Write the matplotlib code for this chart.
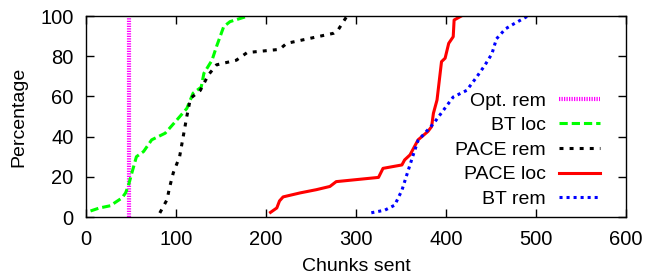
import matplotlib
matplotlib.use("Agg")
import matplotlib.pyplot as plt

plt.rcParams['font.family'] = ['Liberation Sans', 'DejaVu Sans']

# Opt. rem: a single vertical line
opt_rem_x = [48, 48]
opt_rem_y = [0, 100]

# BT loc (green dashed)
bt_loc_x = [5, 15, 27, 35, 40, 44, 47, 51, 56, 64, 73, 88, 101, 112, 119, 128, 131, 140, 145, 153, 160, 180]
bt_loc_y = [3, 4.5, 5.6, 8, 9.5, 12, 15.5, 22, 30, 32.6, 38.4, 41.7, 48.3, 54, 61.6, 64.6, 71.5, 78, 84.8, 94.7, 97.2, 100]

# PACE rem (black dotted)
pace_rem_x = [82, 90, 93, 97, 104, 108, 112, 116, 127, 136, 145, 167, 179, 215, 223, 275, 280, 290]
pace_rem_y = [2, 8.6, 15, 22, 30, 40, 50, 59, 63, 70.7, 75.7, 78, 81.8, 83.4, 86.4, 91.4, 93, 100]

# PACE loc (red solid)
pace_loc_x = [205, 212, 215, 219, 238, 256, 271, 278, 325, 330, 351, 354, 360, 369, 380, 384, 386, 390, 395, 399, 403, 408, 409, 417]
pace_loc_y = [2.3, 4.5, 8, 10, 12, 13.6, 15.2, 17.6, 19.7, 24.2, 25.9, 28.4, 30.9, 38.4, 42.6, 45, 51.6, 58.2, 77.3, 79, 86.4, 89.7, 98, 100]

# BT rem (blue dotted)
bt_rem_x = [317, 332, 343, 351, 358, 364, 369, 386, 408, 423, 434, 443, 451, 456, 466, 475, 491]
bt_rem_y = [2.1, 3.4, 5.9, 13.3, 23.2, 31.5, 38.1, 46.4, 59.7, 63, 69.6, 75.4, 81.2, 88.6, 93.6, 96, 100]

fig = plt.figure(figsize=(6.58, 2.75), dpi=100)
ax = fig.add_axes([0.1307, 0.2109, 0.8207, 0.7309])

ax.plot(opt_rem_x, opt_rem_y, color='#ff00ff', lw=3.0, dashes=(0.3, 0.3), label='Opt. rem')
ax.plot(bt_loc_x, bt_loc_y, color='#00ff00', lw=2.2, dashes=(2.7, 1.3), label='BT loc')
ax.plot(pace_rem_x, pace_rem_y, color='black', lw=2.2, dashes=(1.3, 2.0), label='PACE rem')
ax.plot(pace_loc_x, pace_loc_y, color='#ff0000', lw=2.2, label='PACE loc')
ax.plot(bt_rem_x, bt_rem_y, color='#0000ff', lw=2.2, dashes=(1.0, 1.3), label='BT rem')

ax.set_xlim(0, 600)
ax.set_ylim(0, 100)
ax.set_xticks(range(0, 601, 100))
ax.set_yticks(range(0, 101, 20))
ax.tick_params(direction='in', length=6, width=1, top=True, right=True, labelsize=14.5, pad=9)
for s in ax.spines.values():
    s.set_linewidth(1)
ax.set_xlabel('Chunks sent', fontsize=14, labelpad=7)
ax.set_ylabel('Percentage', fontsize=14, labelpad=9)

ax.legend(loc='lower right', bbox_to_anchor=(0.952, 0.045), frameon=False, markerfirst=False,
          fontsize=14, handlelength=2.1, handletextpad=0.7, labelspacing=0.36,
          borderpad=0, borderaxespad=0)

fig.savefig('out.png', dpi=100)
